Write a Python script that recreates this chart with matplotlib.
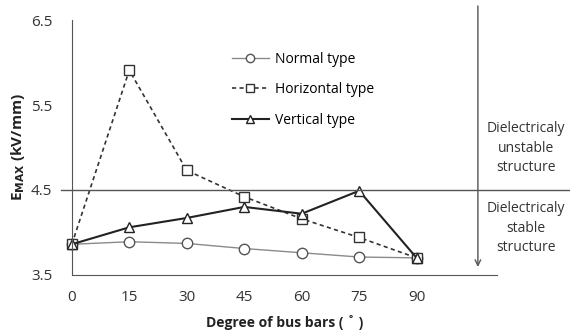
import numpy as np
import matplotlib.pyplot as plt

degrees = [0, 15, 30, 45, 60, 75, 90]
normalType = [3.86, 3.89, 3.87, 3.81, 3.76, 3.71, 3.70]
horizontalType = [3.86, 5.91, 4.73, 4.42, 4.16, 3.94, 3.70]
verticalType = [3.86, 4.06, 4.17, 4.30, 4.22, 4.49, 3.70]

yTicks = [3.5, 4.5, 5.5, 6.5]

plt.rcParams['font.family'] = ['Open Sans', 'DejaVu Sans']

fig = plt.figure(figsize=(5.7, 3.36), dpi=100)
ax = fig.add_axes([0.126, 0.182, 0.746, 0.758])

ax.plot(degrees, normalType, '-', color='#8a8a8a', lw=1.0, marker='o', ms=7.5,
		mfc='white', mec='#555555', mew=1.0, label='Normal type', clip_on=False)
ax.plot(degrees, horizontalType, '--', color='#333333', lw=1.2, marker='s', ms=7.5,
		mfc='white', mec='#333333', mew=1.0, label='Horizontal type', clip_on=False, dashes=(2.5, 2))
ax.plot(degrees, verticalType, '-', color='#222222', lw=1.5, marker='^', ms=7.5,
		mfc='white', mec='#222222', mew=1.0, label='Vertical type', clip_on=False)

# stability boundary and arrow
ax.axhline(4.5, xmin=-0.025, xmax=1.18, color='#555555', lw=1.0, clip_on=False)
ax.annotate('', xy=(106, 3.56), xytext=(106, 6.7),
			arrowprops=dict(arrowstyle='->', color='#555555', lw=1.0), annotation_clip=False)

ax.text(118.6, 4.99, 'Dielectricaly\nunstable\nstructure', ha='center', va='center',
		fontsize=10, color='#333333', linespacing=1.4)
ax.text(118.6, 4.05, 'Dielectricaly\nstable\nstructure', ha='center', va='center',
		fontsize=10, color='#333333', linespacing=1.4)

ax.set_xlim(0, 111)
ax.set_ylim(3.5, 6.5)
ax.set_xticks(degrees)
ax.set_yticks(yTicks)
ax.set_yticklabels(['3.5', '4.5', '5.5', '6.5'])
ax.tick_params(length=0, labelsize=11, colors='#333333')
ax.tick_params(axis='y', pad=14)
ax.tick_params(axis='x', pad=11)
for s in ['top', 'right']:
	ax.spines[s].set_visible(False)
for s in ['left', 'bottom']:
	ax.spines[s].set_color('#555555')

ax.set_xlabel('Degree of bus bars ( \u02da )', fontsize=10, fontweight='bold', color='#222222', labelpad=7)
ax.set_ylabel('E$_{\\mathbf{MAX}}$ (kV/mm)', fontsize=11, fontweight='bold', color='#222222', labelpad=3)

ax.legend(loc='upper left', bbox_to_anchor=(0.376, 0.875), frameon=False, fontsize=10,
		  handlelength=2.7, handletextpad=0.45, labelspacing=1.1, markerscale=0.8,
		  borderaxespad=0, borderpad=0)

fig.savefig('out.png', dpi=100)
